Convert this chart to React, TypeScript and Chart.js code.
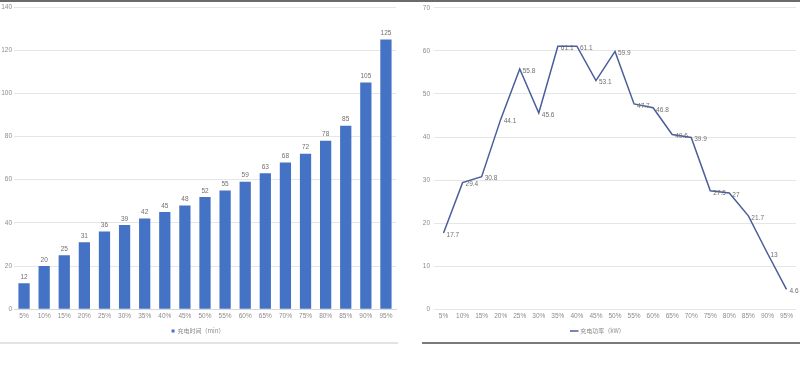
import React, { useEffect, useRef } from "react";
import { Chart, registerables } from "chart.js";

Chart.register(...registerables);

const categories = ["5%", "10%", "15%", "20%", "25%", "30%", "35%", "40%", "45%", "50%", "55%", "60%", "65%", "70%", "75%", "80%", "85%", "90%", "95%"];
const chargeTime = [12, 20, 25, 31, 36, 39, 42, 45, 48, 52, 55, 59, 63, 68, 72, 78, 85, 105, 125];
const chargePower = [17.7, 29.4, 30.8, 44.1, 55.8, 45.6, 61.1, 61.1, 53.1, 59.9, 47.7, 46.8, 40.6, 39.9, 27.5, 27, 21.7, 13, 4.6];
const timeLabel = "充电时间（min）";
const powerLabel = "充电功率（kW）";

const FONT = "'Noto Sans CJK SC', 'Noto Sans', sans-serif";
const TICKFONT = "'Liberation Sans Narrow', 'Liberation Sans', 'DejaVu Sans', sans-serif";
const TEXT = "#8c8c8c";
const GRID = "#e6e6e6";

const labelPlugin = (mode: "bar" | "line") => ({
  id: "valLabels" + mode,
  afterDatasetsDraw(chart: any) {
    const ctx = chart.ctx;
    const meta = chart.getDatasetMeta(0);
    const data = chart.data.datasets[0].data;
    ctx.save();
    ctx.font = `6.5px ${TICKFONT}`;
    ctx.fillStyle = "#707070";
    meta.data.forEach((el: any, i: number) => {
      const v = String(data[i]);
      if (mode === "bar") {
        ctx.textAlign = "center";
        ctx.textBaseline = "bottom";
        ctx.fillText(v, el.x, el.y - 3);
      } else {
        ctx.textAlign = "left";
        ctx.textBaseline = "middle";
        ctx.fillText(v, el.x + 3, el.y + 2);
      }
    });
    ctx.restore();
  },
});

const xTicks = { font: { size: 6.5, family: TICKFONT }, color: TEXT, maxRotation: 0, minRotation: 0, autoSkip: false, padding: 3 };

function BarChart() {
  const ref = useRef<HTMLCanvasElement>(null);
  useEffect(() => {
    const c = new Chart(ref.current!, {
      type: "bar",
      data: {
        labels: categories,
        datasets: [{ label: timeLabel, data: chargeTime, backgroundColor: "#4472C4", categoryPercentage: 1, barPercentage: 0.56 }],
      },
      options: {
        animation: false,
        responsive: false,
        layout: { padding: { left: 0, right: 4, top: 7, bottom: 7 } },
        plugins: {
          tooltip: { enabled: false },
          legend: {
            position: "bottom",
            labels: { font: { size: 6, family: FONT }, color: TEXT, boxWidth: 3, boxHeight: 3, padding: 5 },
          },
        },
        scales: {
          x: {
            grid: { display: false, drawTicks: false },
            border: { display: true, color: "#d9d9d9" },
            ticks: xTicks,
          },
          y: {
            min: 0,
            max: 140,
            grid: { color: GRID, drawTicks: false },
            border: { display: false },
            ticks: { stepSize: 20, font: { size: 6.5, family: TICKFONT }, color: TEXT, padding: 2 },
            afterFit: (s: any) => { s.width = 14; },
          },
        },
      },
      plugins: [labelPlugin("bar")],
    } as any);
    return () => c.destroy();
  }, []);
  return <canvas ref={ref} width={400} height={351} style={{ position: "absolute", left: 0, top: 0 }} />;
}

function LineChart() {
  const ref = useRef<HTMLCanvasElement>(null);
  useEffect(() => {
    const c = new Chart(ref.current!, {
      type: "line",
      data: {
        labels: categories,
        datasets: [{ label: powerLabel, data: chargePower, borderColor: "#4a5f99", backgroundColor: "#4a5f99", borderWidth: 1.5, pointRadius: 0, tension: 0 }],
      },
      options: {
        animation: false,
        responsive: false,
        layout: { padding: { left: 0, right: 4, top: 7, bottom: 7 } },
        plugins: {
          tooltip: { enabled: false },
          legend: {
            position: "bottom",
            labels: { font: { size: 6, family: FONT }, color: TEXT, usePointStyle: true, pointStyle: "line", boxWidth: 8, padding: 5 },
          },
        },
        scales: {
          x: {
            offset: true,
            grid: { display: false, drawTicks: false },
            border: { display: false },
            ticks: xTicks,
          },
          y: {
            min: 0,
            max: 70,
            grid: { color: GRID, drawTicks: false },
            border: { display: false },
            ticks: { stepSize: 10, font: { size: 6.5, family: TICKFONT }, color: TEXT, padding: 4 },
            afterFit: (s: any) => { s.width = 34; },
          },
        },
      },
      plugins: [labelPlugin("line")],
    } as any);
    return () => c.destroy();
  }, []);
  return <canvas ref={ref} width={400} height={351} style={{ position: "absolute", left: 400, top: 0 }} />;
}

export default function App() {
  useEffect(() => {
    document.body.style.margin = "0";
  }, []);
  return (
    <div style={{ position: "relative", width: 800, height: 369, background: "#fff", overflow: "hidden" }}>
      <BarChart />
      <LineChart />
      <div style={{ position: "absolute", left: 0, top: 0, width: 800, height: 2, background: "#6b6b6b" }} />
      <div style={{ position: "absolute", left: 0, top: 342, width: 398, height: 2, background: "#e3e3e3" }} />
      <div style={{ position: "absolute", left: 422, top: 342, width: 378, height: 2, background: "#7a7a7a" }} />
    </div>
  );
}
